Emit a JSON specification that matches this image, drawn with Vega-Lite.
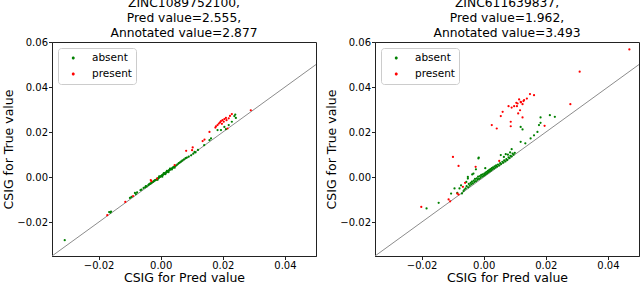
{
  "$schema": "https://vega.github.io/schema/vega-lite/v6.json",
  "padding": {"left": 2, "top": -4, "right": 0, "bottom": 0},
  "config": {
    "font": "DejaVu Sans",
    "view": {"stroke": "#222", "strokeWidth": 1},
    "axis": {"grid": false, "domainColor": "#222", "tickColor": "#222", "labelColor": "#000", "titleColor": "#000", "labelFontSize": 10, "titleFontSize": 12.5, "titleFontWeight": "normal", "tickSize": 3.5, "labelPadding": 1, "titlePadding": 1, "labelFont": "DejaVu Sans", "titleFont": "DejaVu Sans"},
    "title": {"fontSize": 12.3, "fontWeight": "normal", "font": "DejaVu Sans", "color": "#000", "lineHeight": 15, "offset": -2},
    "legend": {"title": null, "orient": "top-left", "offset": 6, "padding": 4, "strokeColor": "#ccc", "cornerRadius": 3, "fillColor": "white", "labelFontSize": 10.5, "labelColor": "#000", "symbolType": "M0.75,0A0.3,0.3,0,1,0,1.35,0A0.3,0.3,0,1,0,0.75,0Z", "symbolSize": 100, "labelOffset": 18, "rowPadding": 4}
  },
  "datasets": {
    "diag": [{"x": -0.035, "y": -0.035}, {"x": 0.05, "y": 0.05}],
    "pts": [
      {"p":"L","s":"absent","x":-0.0309,"y":-0.0280},
      {"p":"L","s":"absent","x":-0.0166,"y":-0.0155},
      {"p":"L","s":"absent","x":-0.0162,"y":-0.0157},
      {"p":"L","s":"absent","x":-0.0160,"y":-0.0153},
      {"p":"L","s":"absent","x":-0.0099,"y":-0.0092},
      {"p":"L","s":"absent","x":-0.0094,"y":-0.0088},
      {"p":"L","s":"absent","x":-0.0083,"y":-0.0070},
      {"p":"L","s":"absent","x":-0.0080,"y":-0.0075},
      {"p":"L","s":"absent","x":-0.0076,"y":-0.0068},
      {"p":"L","s":"absent","x":-0.0065,"y":-0.0058},
      {"p":"L","s":"absent","x":-0.0062,"y":-0.0055},
      {"p":"L","s":"absent","x":-0.0055,"y":-0.0048},
      {"p":"L","s":"absent","x":-0.0050,"y":-0.0045},
      {"p":"L","s":"absent","x":-0.0048,"y":-0.0040},
      {"p":"L","s":"absent","x":-0.0045,"y":-0.0041},
      {"p":"L","s":"absent","x":-0.0040,"y":-0.0035},
      {"p":"L","s":"absent","x":-0.0038,"y":-0.0032},
      {"p":"L","s":"absent","x":-0.0035,"y":-0.0030},
      {"p":"L","s":"absent","x":-0.0033,"y":-0.0028},
      {"p":"L","s":"absent","x":-0.0030,"y":-0.0026},
      {"p":"L","s":"absent","x":-0.0028,"y":-0.0022},
      {"p":"L","s":"absent","x":-0.0025,"y":-0.0021},
      {"p":"L","s":"absent","x":-0.0022,"y":-0.0018},
      {"p":"L","s":"absent","x":-0.0020,"y":-0.0015},
      {"p":"L","s":"absent","x":-0.0018,"y":-0.0013},
      {"p":"L","s":"absent","x":-0.0015,"y":-0.0012},
      {"p":"L","s":"absent","x":-0.0012,"y":-0.0008},
      {"p":"L","s":"absent","x":-0.0010,"y":-0.0006},
      {"p":"L","s":"absent","x":-0.0008,"y":-0.0004},
      {"p":"L","s":"absent","x":-0.0005,"y":-0.0002},
      {"p":"L","s":"absent","x":-0.0003,"y":0.0001},
      {"p":"L","s":"absent","x":0.0000,"y":0.0003},
      {"p":"L","s":"absent","x":0.0002,"y":0.0006},
      {"p":"L","s":"absent","x":0.0004,"y":0.0008},
      {"p":"L","s":"absent","x":0.0006,"y":0.0010},
      {"p":"L","s":"absent","x":0.0008,"y":0.0012},
      {"p":"L","s":"absent","x":0.0010,"y":0.0013},
      {"p":"L","s":"absent","x":0.0012,"y":0.0016},
      {"p":"L","s":"absent","x":0.0014,"y":0.0018},
      {"p":"L","s":"absent","x":0.0016,"y":0.0020},
      {"p":"L","s":"absent","x":0.0018,"y":0.0021},
      {"p":"L","s":"absent","x":0.0020,"y":0.0024},
      {"p":"L","s":"absent","x":0.0022,"y":0.0026},
      {"p":"L","s":"absent","x":0.0024,"y":0.0027},
      {"p":"L","s":"absent","x":0.0026,"y":0.0030},
      {"p":"L","s":"absent","x":0.0028,"y":0.0031},
      {"p":"L","s":"absent","x":0.0030,"y":0.0034},
      {"p":"L","s":"absent","x":0.0033,"y":0.0036},
      {"p":"L","s":"absent","x":0.0035,"y":0.0038},
      {"p":"L","s":"absent","x":0.0038,"y":0.0041},
      {"p":"L","s":"absent","x":0.0040,"y":0.0043},
      {"p":"L","s":"absent","x":0.0043,"y":0.0046},
      {"p":"L","s":"absent","x":0.0046,"y":0.0049},
      {"p":"L","s":"absent","x":0.0050,"y":0.0052},
      {"p":"L","s":"absent","x":0.0054,"y":0.0057},
      {"p":"L","s":"absent","x":0.0058,"y":0.0062},
      {"p":"L","s":"absent","x":0.0062,"y":0.0066},
      {"p":"L","s":"absent","x":0.0066,"y":0.0070},
      {"p":"L","s":"absent","x":0.0070,"y":0.0074},
      {"p":"L","s":"absent","x":0.0075,"y":0.0079},
      {"p":"L","s":"absent","x":0.0080,"y":0.0084},
      {"p":"L","s":"absent","x":0.0084,"y":0.0087},
      {"p":"L","s":"absent","x":0.0090,"y":0.0091},
      {"p":"L","s":"absent","x":0.0098,"y":0.0097},
      {"p":"L","s":"absent","x":0.0105,"y":0.0104},
      {"p":"L","s":"absent","x":0.0112,"y":0.0110},
      {"p":"L","s":"absent","x":0.0120,"y":0.0121},
      {"p":"L","s":"absent","x":-0.0010,"y":-0.0012},
      {"p":"L","s":"absent","x":0.0005,"y":0.0002},
      {"p":"L","s":"absent","x":0.0015,"y":0.0013},
      {"p":"L","s":"absent","x":0.0025,"y":0.0022},
      {"p":"L","s":"absent","x":0.0036,"y":0.0034},
      {"p":"L","s":"absent","x":0.0045,"y":0.0042},
      {"p":"L","s":"absent","x":0.0020,"y":0.0028},
      {"p":"L","s":"absent","x":0.0030,"y":0.0038},
      {"p":"L","s":"absent","x":0.0010,"y":0.0018},
      {"p":"L","s":"absent","x":-0.0005,"y":0.0004},
      {"p":"L","s":"absent","x":0.0109,"y":0.0112},
      {"p":"L","s":"absent","x":0.0140,"y":0.0142},
      {"p":"L","s":"absent","x":0.0157,"y":0.0164},
      {"p":"L","s":"absent","x":0.0162,"y":0.0172},
      {"p":"L","s":"absent","x":0.0183,"y":0.0209},
      {"p":"L","s":"absent","x":0.0194,"y":0.0209},
      {"p":"L","s":"absent","x":0.0205,"y":0.0223},
      {"p":"L","s":"absent","x":0.0210,"y":0.0213},
      {"p":"L","s":"absent","x":0.0219,"y":0.0231},
      {"p":"L","s":"absent","x":0.0229,"y":0.0246},
      {"p":"L","s":"absent","x":0.0237,"y":0.0271},
      {"p":"L","s":"absent","x":0.0242,"y":0.0263},
      {"p":"L","s":"absent","x":0.0240,"y":0.0278},
      {"p":"L","s":"present","x":-0.0172,"y":-0.0169},
      {"p":"L","s":"present","x":-0.0114,"y":-0.0110},
      {"p":"L","s":"present","x":-0.0089,"y":-0.0084},
      {"p":"L","s":"present","x":-0.0032,"y":-0.0013},
      {"p":"L","s":"present","x":-0.0030,"y":-0.0018},
      {"p":"L","s":"present","x":-0.0012,"y":-0.0006},
      {"p":"L","s":"present","x":0.0045,"y":0.0053},
      {"p":"L","s":"present","x":0.0082,"y":0.0117},
      {"p":"L","s":"present","x":0.0103,"y":0.0132},
      {"p":"L","s":"present","x":0.0101,"y":0.0120},
      {"p":"L","s":"present","x":0.0135,"y":0.0160},
      {"p":"L","s":"present","x":0.0141,"y":0.0167},
      {"p":"L","s":"present","x":0.0157,"y":0.0201},
      {"p":"L","s":"present","x":0.0176,"y":0.0220},
      {"p":"L","s":"present","x":0.0178,"y":0.0226},
      {"p":"L","s":"present","x":0.0183,"y":0.0231},
      {"p":"L","s":"present","x":0.0187,"y":0.0238},
      {"p":"L","s":"present","x":0.0191,"y":0.0243},
      {"p":"L","s":"present","x":0.0194,"y":0.0249},
      {"p":"L","s":"present","x":0.0199,"y":0.0253},
      {"p":"L","s":"present","x":0.0203,"y":0.0246},
      {"p":"L","s":"present","x":0.0197,"y":0.0237},
      {"p":"L","s":"present","x":0.0205,"y":0.0258},
      {"p":"L","s":"present","x":0.0210,"y":0.0263},
      {"p":"L","s":"present","x":0.0212,"y":0.0253},
      {"p":"L","s":"present","x":0.0219,"y":0.0261},
      {"p":"L","s":"present","x":0.0223,"y":0.0272},
      {"p":"L","s":"present","x":0.0229,"y":0.0280},
      {"p":"L","s":"present","x":0.0215,"y":0.0216},
      {"p":"L","s":"present","x":0.0290,"y":0.0297},
      {"p":"R","s":"absent","x":-0.0184,"y":-0.0139},
      {"p":"R","s":"absent","x":-0.0145,"y":-0.0114},
      {"p":"R","s":"absent","x":-0.0105,"y":-0.0073},
      {"p":"R","s":"absent","x":-0.0094,"y":-0.0050},
      {"p":"R","s":"absent","x":-0.0085,"y":-0.0070},
      {"p":"R","s":"absent","x":-0.0078,"y":-0.0050},
      {"p":"R","s":"absent","x":-0.0073,"y":-0.0036},
      {"p":"R","s":"absent","x":-0.0056,"y":-0.0021},
      {"p":"R","s":"absent","x":-0.0051,"y":0.0001},
      {"p":"R","s":"absent","x":-0.0051,"y":-0.0006},
      {"p":"R","s":"absent","x":-0.0037,"y":0.0012},
      {"p":"R","s":"absent","x":-0.0033,"y":0.0016},
      {"p":"R","s":"absent","x":-0.0017,"y":0.0083},
      {"p":"R","s":"absent","x":-0.0016,"y":0.0087},
      {"p":"R","s":"absent","x":-0.0070,"y":-0.0072},
      {"p":"R","s":"absent","x":-0.0065,"y":-0.0062},
      {"p":"R","s":"absent","x":-0.0062,"y":-0.0055},
      {"p":"R","s":"absent","x":-0.0058,"y":-0.0050},
      {"p":"R","s":"absent","x":-0.0055,"y":-0.0040},
      {"p":"R","s":"absent","x":-0.0050,"y":-0.0045},
      {"p":"R","s":"absent","x":-0.0048,"y":-0.0030},
      {"p":"R","s":"absent","x":-0.0045,"y":-0.0038},
      {"p":"R","s":"absent","x":-0.0042,"y":-0.0025},
      {"p":"R","s":"absent","x":-0.0040,"y":-0.0032},
      {"p":"R","s":"absent","x":-0.0038,"y":-0.0020},
      {"p":"R","s":"absent","x":-0.0035,"y":-0.0028},
      {"p":"R","s":"absent","x":-0.0032,"y":-0.0015},
      {"p":"R","s":"absent","x":-0.0030,"y":-0.0022},
      {"p":"R","s":"absent","x":-0.0028,"y":-0.0008},
      {"p":"R","s":"absent","x":-0.0025,"y":-0.0018},
      {"p":"R","s":"absent","x":-0.0022,"y":-0.0005},
      {"p":"R","s":"absent","x":-0.0020,"y":-0.0012},
      {"p":"R","s":"absent","x":-0.0018,"y":0.0002},
      {"p":"R","s":"absent","x":-0.0015,"y":-0.0008},
      {"p":"R","s":"absent","x":-0.0012,"y":0.0005},
      {"p":"R","s":"absent","x":-0.0010,"y":-0.0003},
      {"p":"R","s":"absent","x":-0.0008,"y":0.0010},
      {"p":"R","s":"absent","x":-0.0005,"y":0.0002},
      {"p":"R","s":"absent","x":-0.0003,"y":0.0012},
      {"p":"R","s":"absent","x":0.0000,"y":0.0006},
      {"p":"R","s":"absent","x":0.0002,"y":0.0016},
      {"p":"R","s":"absent","x":0.0004,"y":0.0010},
      {"p":"R","s":"absent","x":0.0006,"y":0.0020},
      {"p":"R","s":"absent","x":0.0008,"y":0.0014},
      {"p":"R","s":"absent","x":0.0010,"y":0.0024},
      {"p":"R","s":"absent","x":0.0012,"y":0.0018},
      {"p":"R","s":"absent","x":0.0014,"y":0.0028},
      {"p":"R","s":"absent","x":0.0016,"y":0.0022},
      {"p":"R","s":"absent","x":0.0018,"y":0.0032},
      {"p":"R","s":"absent","x":0.0020,"y":0.0026},
      {"p":"R","s":"absent","x":0.0022,"y":0.0036},
      {"p":"R","s":"absent","x":0.0024,"y":0.0030},
      {"p":"R","s":"absent","x":0.0026,"y":0.0040},
      {"p":"R","s":"absent","x":0.0028,"y":0.0034},
      {"p":"R","s":"absent","x":0.0030,"y":0.0044},
      {"p":"R","s":"absent","x":0.0033,"y":0.0038},
      {"p":"R","s":"absent","x":0.0035,"y":0.0048},
      {"p":"R","s":"absent","x":0.0038,"y":0.0043},
      {"p":"R","s":"absent","x":0.0040,"y":0.0052},
      {"p":"R","s":"absent","x":0.0043,"y":0.0047},
      {"p":"R","s":"absent","x":0.0046,"y":0.0056},
      {"p":"R","s":"absent","x":0.0050,"y":0.0052},
      {"p":"R","s":"absent","x":0.0053,"y":0.0062},
      {"p":"R","s":"absent","x":0.0056,"y":0.0058},
      {"p":"R","s":"absent","x":0.0060,"y":0.0068},
      {"p":"R","s":"absent","x":0.0063,"y":0.0064},
      {"p":"R","s":"absent","x":0.0066,"y":0.0074},
      {"p":"R","s":"absent","x":0.0070,"y":0.0070},
      {"p":"R","s":"absent","x":0.0073,"y":0.0080},
      {"p":"R","s":"absent","x":0.0076,"y":0.0076},
      {"p":"R","s":"absent","x":0.0080,"y":0.0088},
      {"p":"R","s":"absent","x":0.0083,"y":0.0084},
      {"p":"R","s":"absent","x":0.0086,"y":0.0095},
      {"p":"R","s":"absent","x":0.0090,"y":0.0092},
      {"p":"R","s":"absent","x":0.0093,"y":0.0104},
      {"p":"R","s":"absent","x":0.0096,"y":0.0100},
      {"p":"R","s":"absent","x":0.0090,"y":0.0124},
      {"p":"R","s":"absent","x":0.0085,"y":0.0110},
      {"p":"R","s":"absent","x":0.0100,"y":0.0108},
      {"p":"R","s":"absent","x":0.0055,"y":0.0098},
      {"p":"R","s":"absent","x":0.0071,"y":0.0102},
      {"p":"R","s":"absent","x":0.0065,"y":0.0090},
      {"p":"R","s":"absent","x":0.0078,"y":0.0100},
      {"p":"R","s":"absent","x":-0.0025,"y":0.0035},
      {"p":"R","s":"absent","x":0.0005,"y":0.0040},
      {"p":"R","s":"absent","x":0.0119,"y":0.0157},
      {"p":"R","s":"absent","x":0.0134,"y":0.0150},
      {"p":"R","s":"absent","x":0.0151,"y":0.0172},
      {"p":"R","s":"absent","x":0.0162,"y":0.0186},
      {"p":"R","s":"absent","x":0.0173,"y":0.0201},
      {"p":"R","s":"absent","x":0.0178,"y":0.0231},
      {"p":"R","s":"absent","x":0.0183,"y":0.0241},
      {"p":"R","s":"absent","x":0.0183,"y":0.0265},
      {"p":"R","s":"absent","x":0.0119,"y":0.0223},
      {"p":"R","s":"absent","x":0.0125,"y":0.0212},
      {"p":"R","s":"absent","x":0.0213,"y":0.0275},
      {"p":"R","s":"absent","x":0.0229,"y":0.0268},
      {"p":"R","s":"present","x":0.0469,"y":0.0567},
      {"p":"R","s":"present","x":0.0309,"y":0.0468},
      {"p":"R","s":"present","x":0.0279,"y":0.0324},
      {"p":"R","s":"present","x":0.0149,"y":0.0369},
      {"p":"R","s":"present","x":0.0162,"y":0.0364},
      {"p":"R","s":"present","x":0.0139,"y":0.0349},
      {"p":"R","s":"present","x":0.0130,"y":0.0342},
      {"p":"R","s":"present","x":0.0119,"y":0.0334},
      {"p":"R","s":"present","x":0.0109,"y":0.0327},
      {"p":"R","s":"present","x":0.0098,"y":0.0315},
      {"p":"R","s":"present","x":0.0090,"y":0.0309},
      {"p":"R","s":"present","x":0.0114,"y":0.0345},
      {"p":"R","s":"present","x":0.0125,"y":0.0324},
      {"p":"R","s":"present","x":0.0107,"y":0.0315},
      {"p":"R","s":"present","x":0.0080,"y":0.0315},
      {"p":"R","s":"present","x":0.0117,"y":0.0297},
      {"p":"R","s":"present","x":0.0111,"y":0.0283},
      {"p":"R","s":"present","x":0.0125,"y":0.0265},
      {"p":"R","s":"present","x":0.0061,"y":0.0290},
      {"p":"R","s":"present","x":0.0055,"y":0.0271},
      {"p":"R","s":"present","x":0.0087,"y":0.0246},
      {"p":"R","s":"present","x":0.0087,"y":0.0226},
      {"p":"R","s":"present","x":0.0026,"y":0.0231},
      {"p":"R","s":"present","x":0.0042,"y":0.0216},
      {"p":"R","s":"present","x":0.0196,"y":0.0228},
      {"p":"R","s":"present","x":-0.0099,"y":0.0090},
      {"p":"R","s":"present","x":-0.0081,"y":0.0050},
      {"p":"R","s":"present","x":-0.0026,"y":0.0046},
      {"p":"R","s":"present","x":-0.0201,"y":-0.0132},
      {"p":"R","s":"present","x":-0.0113,"y":-0.0099},
      {"p":"R","s":"present","x":-0.0108,"y":-0.0107},
      {"p":"R","s":"present","x":-0.0081,"y":-0.0077},
      {"p":"R","s":"present","x":0.0050,"y":0.0072},
      {"p":"R","s":"present","x":-0.0060,"y":-0.0025},
      {"p":"R","s":"present","x":-0.0085,"y":-0.0073},
      {"p":"R","s":"present","x":-0.0067,"y":-0.0043},
      {"p":"R","s":"present","x":0.0120,"y":0.0332},
      {"p":"R","s":"present","x":0.0105,"y":0.0330},
      {"p":"R","s":"present","x":0.0128,"y":0.0338}
    ]
  },
  "spacing": 8,
  "resolve": {"scale": {"color": "independent"}, "legend": {"color": "independent"}},
  "hconcat": [
    {
      "width": 264, "height": 214,
      "title": {"text": ["ZINC1089752100,", "Pred value=2.555,", "Annotated value=2.877"]},
      "layer": [
        {
          "data": {"name": "diag"},
          "mark": {"type": "line", "color": "#8c8c8c", "strokeWidth": 1, "clip": true},
          "encoding": {
            "x": {"field": "x", "type": "quantitative", "scale": {"domain": [-0.035, 0.05], "nice": false, "zero": false}, "axis": {"values": [-0.02, 0, 0.02, 0.04], "format": ".2f", "title": "CSIG for Pred value"}},
            "y": {"field": "y", "type": "quantitative", "scale": {"domain": [-0.035, 0.06], "nice": false, "zero": false}, "axis": {"values": [-0.02, 0, 0.02, 0.04, 0.06], "format": ".2f", "title": "CSIG for True value"}}
          }
        },
        {
          "data": {"name": "pts"},
          "transform": [{"filter": "datum.p == 'L'"}],
          "mark": {"type": "circle", "size": 5, "opacity": 1, "clip": true},
          "encoding": {
            "x": {"field": "x", "type": "quantitative"},
            "y": {"field": "y", "type": "quantitative"},
            "color": {"field": "s", "type": "nominal", "scale": {"domain": ["absent", "present"], "range": ["#008000", "#ff0000"]}}
          }
        }
      ]
    },
    {
      "width": 264, "height": 214,
      "title": {"text": ["ZINC611639837,", "Pred value=1.962,", "Annotated value=3.493"]},
      "layer": [
        {
          "data": {"name": "diag"},
          "mark": {"type": "line", "color": "#8c8c8c", "strokeWidth": 1, "clip": true},
          "encoding": {
            "x": {"field": "x", "type": "quantitative", "scale": {"domain": [-0.035, 0.05], "nice": false, "zero": false}, "axis": {"values": [-0.02, 0, 0.02, 0.04], "format": ".2f", "title": "CSIG for Pred value"}},
            "y": {"field": "y", "type": "quantitative", "scale": {"domain": [-0.035, 0.06], "nice": false, "zero": false}, "axis": {"values": [-0.02, 0, 0.02, 0.04, 0.06], "format": ".2f", "title": "CSIG for True value"}}
          }
        },
        {
          "data": {"name": "pts"},
          "transform": [{"filter": "datum.p == 'R'"}],
          "mark": {"type": "circle", "size": 5, "opacity": 1, "clip": true},
          "encoding": {
            "x": {"field": "x", "type": "quantitative"},
            "y": {"field": "y", "type": "quantitative"},
            "color": {"field": "s", "type": "nominal", "scale": {"domain": ["absent", "present"], "range": ["#008000", "#ff0000"]}}
          }
        }
      ]
    }
  ]
}
